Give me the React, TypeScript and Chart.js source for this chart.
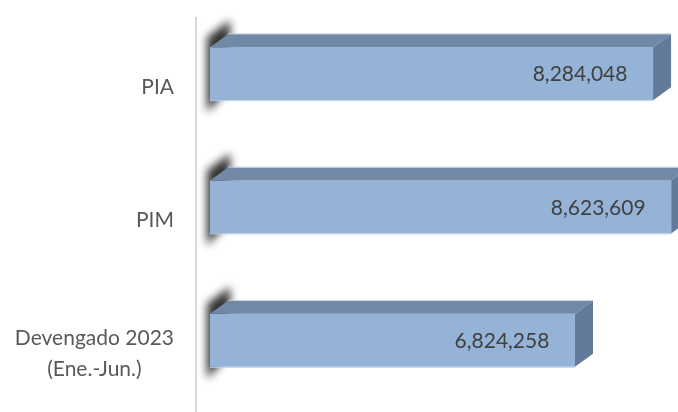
import { useEffect, useRef } from "react";
import { Chart, registerables } from "chart.js";

Chart.register(...registerables);

const categories: string[][] = [["PIA"], ["PIM"], ["Devengado 2023", "(Ene.-Jun.)"]];
const values: number[] = [8284048, 8623609, 6824258];
const axisMax = 8750000;

const FRONT = "#95b3d7";
const TOP = "#7189a7";
const SIDE = "#637a9a";
const DX = 18;
const DY = 13;
const FONT = "Lato, 'Open Sans', sans-serif";

const fmt = (v: number) => v.toLocaleString("en-US");

const bar3d = {
  id: "bar3d",
  beforeDraw(chart: any) {
    const { ctx, chartArea } = chart;
    ctx.save();
    ctx.strokeStyle = "#d9d9d9";
    ctx.lineWidth = 2;
    ctx.beginPath();
    const x = chartArea.left - 14;
    ctx.moveTo(x, chartArea.top + 10);
    ctx.lineTo(x, chart.height);
    ctx.stroke();
    ctx.restore();
  },
  beforeDatasetsDraw(chart: any) {
    const { ctx } = chart;
    const meta = chart.getDatasetMeta(0);
    ctx.save();
    ctx.filter = "blur(4px)";
    ctx.fillStyle = "rgba(0,0,0,0.8)";
    meta.data.forEach((el: any) => {
      const p = el.getProps(["x", "y", "base", "height"], true);
      const l = p.base;
      const t = p.y - p.height / 2;
      const b = p.y + p.height / 2;
      ctx.beginPath();
      ctx.moveTo(l - 3, t - 10);
      ctx.lineTo(l + DX + 2, t - DY - 14);
      ctx.lineTo(l + DX + 2, b - DY);
      ctx.lineTo(l - 3, b + 12);
      ctx.closePath();
      ctx.fill();
    });
    ctx.restore();
  },
  afterDatasetsDraw(chart: any) {
    const { ctx } = chart;
    const meta = chart.getDatasetMeta(0);
    ctx.save();
    meta.data.forEach((el: any, i: number) => {
      const p = el.getProps(["x", "y", "base", "height"], true);
      const l = p.base;
      const r = p.x;
      const t = p.y - p.height / 2;
      const b = p.y + p.height / 2;
      // top face
      ctx.fillStyle = TOP;
      ctx.beginPath();
      ctx.moveTo(l, t);
      ctx.lineTo(l + DX, t - DY);
      ctx.lineTo(r + DX, t - DY);
      ctx.lineTo(r, t);
      ctx.closePath();
      ctx.fill();
      ctx.strokeStyle = "rgba(200,210,225,0.9)";
      ctx.lineWidth = 1;
      ctx.beginPath();
      ctx.moveTo(l + DX, t - DY - 0.5);
      ctx.lineTo(r + DX, t - DY - 0.5);
      ctx.stroke();
      // side face
      ctx.fillStyle = SIDE;
      ctx.beginPath();
      ctx.moveTo(r, t);
      ctx.lineTo(r + DX, t - DY);
      ctx.lineTo(r + DX, b - DY);
      ctx.lineTo(r, b);
      ctx.closePath();
      ctx.fill();
      // bottom highlight
      ctx.strokeStyle = "rgba(190,208,232,0.9)";
      ctx.beginPath();
      ctx.moveTo(l, b + 0.5);
      ctx.lineTo(r, b + 0.5);
      ctx.stroke();
      // value label
      ctx.fillStyle = "#404040";
      ctx.font = `21px ${FONT}`;
      ctx.textAlign = "center";
      ctx.textBaseline = "middle";
      ctx.fillText(fmt(values[i]), r - 73, p.y + 1);
    });
    ctx.restore();
  },
  afterDraw(chart: any) {
    const { ctx, chartArea } = chart;
    const meta = chart.getDatasetMeta(0);
    ctx.save();
    ctx.fillStyle = "#595959";
    ctx.font = `21px ${FONT}`;
    ctx.textAlign = "center";
    ctx.textBaseline = "middle";
    const right = chartArea.left - 36;
    const lh = 31;
    meta.data.forEach((el: any, i: number) => {
      const lines = categories[i];
      const cy = el.y + DY + 0.5;
      const w = Math.max(...lines.map((s) => ctx.measureText(s).width));
      const cx = right - w / 2;
      lines.forEach((s, j) => {
        ctx.fillText(s, cx, cy + (j - (lines.length - 1) / 2) * lh);
      });
    });
    ctx.restore();
  },
};

export default function App() {
  const ref = useRef<HTMLCanvasElement>(null);
  useEffect(() => {
    if (!ref.current) return;
    const chart = new Chart(ref.current, {
      type: "bar",
      data: {
        labels: categories,
        datasets: [
          {
            data: values,
            backgroundColor: FRONT,
            borderWidth: 0,
            categoryPercentage: 1,
            barPercentage: 0.3975,
          },
        ],
      },
      options: {
        indexAxis: "y",
        animation: false,
        responsive: true,
        maintainAspectRatio: false,
        layout: { padding: { left: 210, top: 7, bottom: 5, right: 0 } },
        scales: {
          x: { display: false, min: 0, max: axisMax },
          y: { display: false },
        },
        plugins: { legend: { display: false }, tooltip: { enabled: false } },
      },
      plugins: [bar3d],
    } as any);
    return () => chart.destroy();
  }, []);
  return (
    <div style={{ position: "absolute", left: 0, top: 0, width: 678, height: 412, background: "#fff" }}>
      <canvas ref={ref} />
    </div>
  );
}
